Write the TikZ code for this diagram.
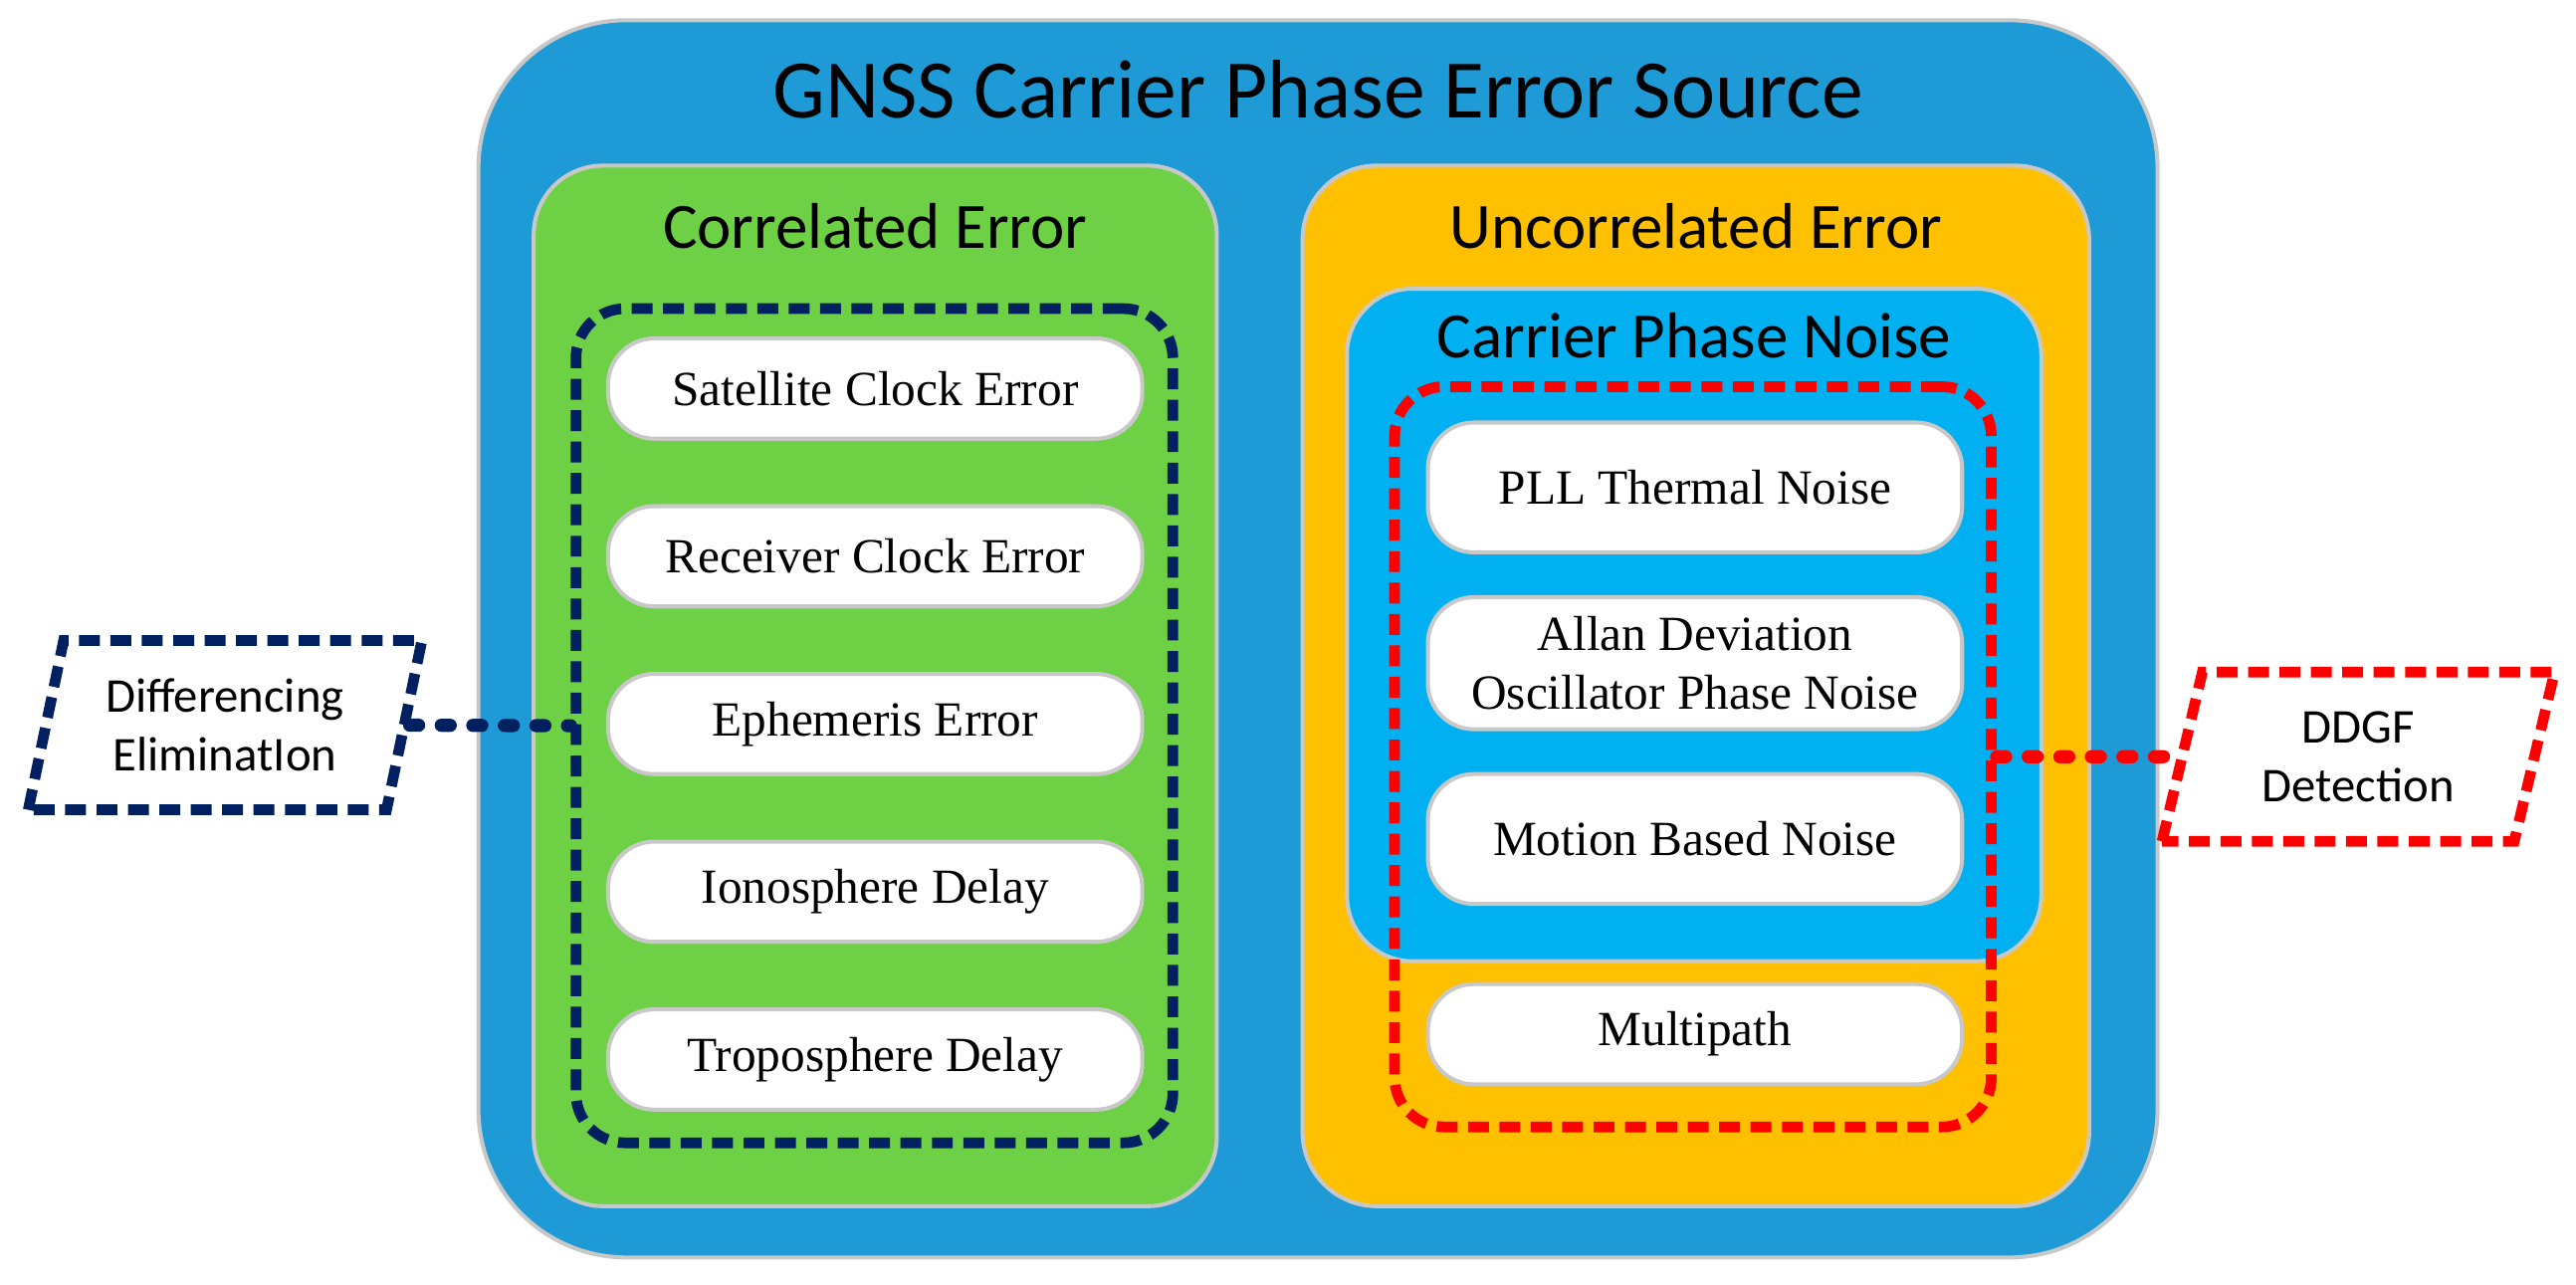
\documentclass[tikz,border=0pt]{standalone}
\usepackage{fontspec}
\setmainfont{Liberation Serif}
\newfontfamily\calibrifont{Carlito}
\usetikzlibrary{shapes.geometric}

\definecolor{srcblue}{RGB}{30,155,215}
\definecolor{corrgreen}{RGB}{110,208,68}
\definecolor{uncorrorange}{RGB}{255,192,0}
\definecolor{noiseblue}{RGB}{0,176,240}
\definecolor{elimnavy}{RGB}{0,32,96}
\definecolor{detred}{RGB}{255,0,0}
\definecolor{rimgray}{RGB}{200,200,200}

\begin{document}
\begin{tikzpicture}[x=0.01cm, y=-0.01cm,
    panel/.style={draw=rimgray, line width=0.7pt},
    pill/.style={draw=rimgray, line width=0.7pt, fill=white, rounded corners=0.28cm,
        minimum width=3.25cm, align=center, font=\fontsize{8.5}{10.2}\selectfont},
    group/.style={line width=0.065cm, dash pattern=on 0.127cm off 0.064cm, rounded corners=0.3cm},
    slanted/.style={draw, fill=white, line width=0.065cm, dash pattern=on 0.127cm off 0.064cm,
        shape=trapezium, trapezium left angle=77, trapezium right angle=103, trapezium stretches=true,
        minimum width=2.40cm, minimum height=1.03cm, align=center,
        font=\calibrifont\fontsize{8.4}{10.2}\selectfont},
    link/.style={line width=0.08cm, line cap=round, dash pattern=on 0.055cm off 0.137cm}]

    \useasboundingbox (0, 0) rectangle (1568, 781.6);

    % outer frame and the two halves
    \node (src) at (802.25, 388.85) [panel, fill=srcblue, rounded corners=0.9cm,
        minimum width=10.215cm, minimum height=7.527cm] {};
    \node (corr) at (532.75, 417.5) [panel, fill=corrgreen, rounded corners=0.42cm,
        minimum width=4.155cm, minimum height=6.33cm] {};
    \node (uncorr) at (1032.25, 417.5) [panel, fill=uncorrorange, rounded corners=0.45cm,
        minimum width=4.785cm, minimum height=6.33cm] {};
    \node (cpn) at (1031.2, 380.4) [panel, fill=noiseblue, rounded corners=0.4cm,
        minimum width=4.224cm, minimum height=4.092cm] {};

    \node (srctitle) at (802.25, 71.5) [anchor=base, font=\calibrifont\fontsize{14.4}{17}\selectfont] {GNSS Carrier Phase Error Source};
    \node (corrtitle) at (532.75, 151) [anchor=base, font=\calibrifont\fontsize{11.2}{13}\selectfont] {Correlated Error};
    \node (uncorrtitle) at (1032.25, 151) [anchor=base, font=\calibrifont\fontsize{11.2}{13}\selectfont] {Uncorrelated Error};
    \node (cpntitle) at (1031.2, 217.8) [anchor=base, font=\calibrifont\fontsize{11.2}{13}\selectfont] {Carrier Phase Noise};

    % correlated error items
    \node (sce) at (532.75, 236.5) [pill, minimum height=0.61cm] {Satellite Clock Error};
    \node (rce) at (532.75, 338.6) [pill, minimum height=0.61cm] {Receiver Clock Error};
    \node (eph) at (532.75, 440.7) [pill, minimum height=0.61cm] {Ephemeris Error};
    \node (iono) at (532.75, 542.8) [pill, minimum height=0.61cm] {Ionosphere Delay};
    \node (tropo) at (532.75, 644.9) [pill, minimum height=0.61cm] {Troposphere Delay};

    % uncorrelated error items
    \node (pll) at (1031.75, 296.7) [pill, minimum height=0.79cm] {PLL Thermal Noise};
    \node (allan) at (1031.75, 403.7) [pill, minimum height=0.79cm] {Allan Deviation\\Oscillator Phase Noise};
    \node (motion) at (1031.75, 510.7) [pill, minimum height=0.79cm] {Motion Based Noise};
    \node (multi) at (1031.75, 629.5) [pill, minimum height=0.61cm] {Multipath};

    % dashed groups
    \node (elim) at (532.25, 441.75) [group, draw=elimnavy, minimum width=3.631cm, minimum height=5.075cm] {};
    \node (detect) at (1030.5, 460.65) [group, draw=detred, minimum width=3.63cm, minimum height=4.503cm] {};

    \node (diff) at (137, 441.4) [slanted, draw=elimnavy] {Differencing\\EliminatIon};
    \node (ddgf) at (1435.5, 460.6) [slanted, draw=detred] {DDGF\\Detection};

    \draw[link, elimnavy] (diff.east) -- (elim.west);
    \draw[link, detred] (detect.east) -- (ddgf.west);
\end{tikzpicture}
\end{document}
